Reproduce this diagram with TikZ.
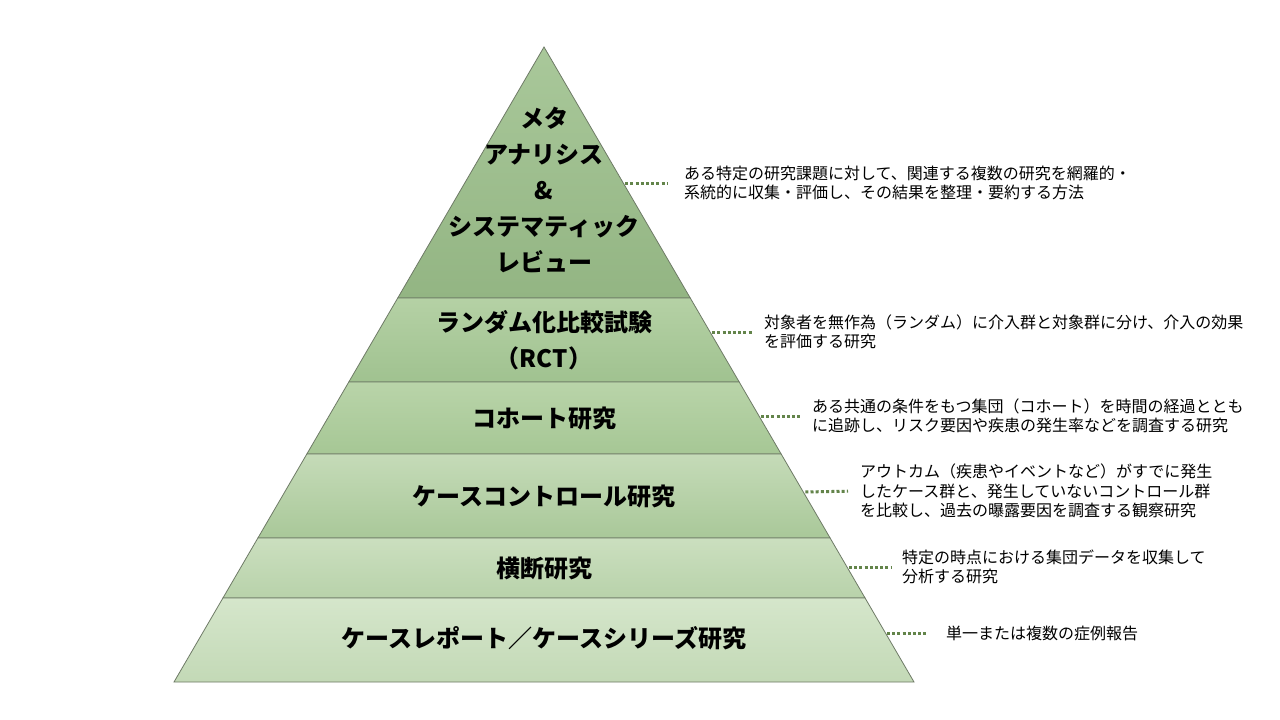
\documentclass[tikz,border=0pt]{standalone}
\usepackage{fontspec}
\setmainfont{Noto Sans CJK JP}
\usetikzlibrary{calc}
\definecolor{edgecol}{HTML}{6E7A66}
\definecolor{dotcol}{HTML}{63844A}
\definecolor{cat}{HTML}{A9C89A}\definecolor{cab}{HTML}{93B583}
\definecolor{cbt}{HTML}{B5D1A5}\definecolor{cbb}{HTML}{A0C290}
\definecolor{cct}{HTML}{B9D4A9}\definecolor{ccb}{HTML}{A6C795}
\definecolor{cdt}{HTML}{C5DBB8}\definecolor{cdb}{HTML}{A9C899}
\definecolor{cet}{HTML}{CBDFBF}\definecolor{ceb}{HTML}{B8D2AA}
\definecolor{cft}{HTML}{D5E6CB}\definecolor{cfb}{HTML}{C3D9B6}
\begin{document}
\begin{tikzpicture}[x=1pt,y=-1pt,
  layer/.style={draw=edgecol, line width=0.8pt},
  lbl/.style={font=\bfseries\fontsize{24}{36}\selectfont, align=center, text=black, inner sep=0pt},
  desc/.style={font=\fontsize{16}{19.5}\selectfont, align=left, anchor=west, inner sep=0pt, text=black},
  conn/.style={draw=dotcol, line width=3pt, dash pattern=on 3pt off 2.2pt, shorten <=2pt}]
\fill[white] (0,0) rectangle (1280,720);
\path[use as bounding box] (0,0) rectangle (1280,720);
% layers
\shadedraw[layer, top color=cat, bottom color=cab] (544,47) -- (690.25,298) -- (397.75,298) -- cycle;
\shadedraw[layer, top color=cbt, bottom color=cbb] (397.75,298) -- (690.25,298) -- (739.2,382) -- (348.8,382) -- cycle;
\shadedraw[layer, top color=cct, bottom color=ccb] (348.8,382) -- (739.2,382) -- (781.15,454) -- (306.85,454) -- cycle;
\shadedraw[layer, top color=cdt, bottom color=cdb] (306.85,454) -- (781.15,454) -- (830.1,538) -- (257.9,538) -- cycle;
\shadedraw[layer, top color=cet, bottom color=ceb] (257.9,538) -- (830.1,538) -- (865.06,598) -- (222.94,598) -- cycle;
\shadedraw[layer, top color=cft, bottom color=cfb] (222.94,598) -- (865.06,598) -- (914,682) -- (174,682) -- cycle;
% labels
\node[lbl] (l1) at (544,190) {メタ\\アナリシス\\\&\\システマティック\\レビュー};
\node[lbl] (l2) at (544,340) {ランダム化比較試験\\（RCT）};
\node[lbl] (l3) at (544,418) {コホート研究};
\node[lbl] (l4) at (544,496) {ケースコントロール研究};
\node[lbl] (l5) at (544,568) {横断研究};
\node[lbl] (l6) at (544,638) {ケースレポート／ケースシリーズ研究};
% edge points
\coordinate (e1) at (623.2,183);
\coordinate (e2) at (710.1,332);
\coordinate (e3) at (759.0,416);
\coordinate (e4) at (803.3,492);
\coordinate (e5) at (847.0,567);
\coordinate (e6) at (885.0,633);
% descriptions
\node[desc] (d1) at (684,183) {ある特定の研究課題に対して、関連する複数の研究を網羅的・\\系統的に収集・評価し、その結果を整理・要約する方法};
\node[desc] (d2) at (764,332) {対象者を無作為（ランダム）に介入群と対象群に分け、介入の効果\\を評価する研究};
\node[desc] (d3) at (812,416) {ある共通の条件をもつ集団（コホート）を時間の経過ととも\\に追跡し、リスク要因や疾患の発生率などを調査する研究};
\node[desc] (d4) at (860,491) {アウトカム（疾患やイベントなど）がすでに発生\\したケース群と、発生していないコントロール群\\を比較し、過去の曝露要因を調査する観察研究};
\node[desc] (d5) at (902,567) {特定の時点における集団データを収集して\\分析する研究};
\node[desc] (d6) at (946,633) {単一または複数の症例報告};
% connectors
\draw[conn, shorten >=17pt] (e1) -- (d1.west);
\draw[conn, shorten >=12pt] (e2) -- (d2.west);
\draw[conn, shorten >=10pt] (e3) -- (d3.west);
\draw[conn, shorten >=12pt] (e4) -- (d4.west);
\draw[conn, shorten >=11pt] (e5) -- (d5.west);
\draw[conn, shorten >=18pt] (e6) -- (d6.west);
\end{tikzpicture}
\end{document}
